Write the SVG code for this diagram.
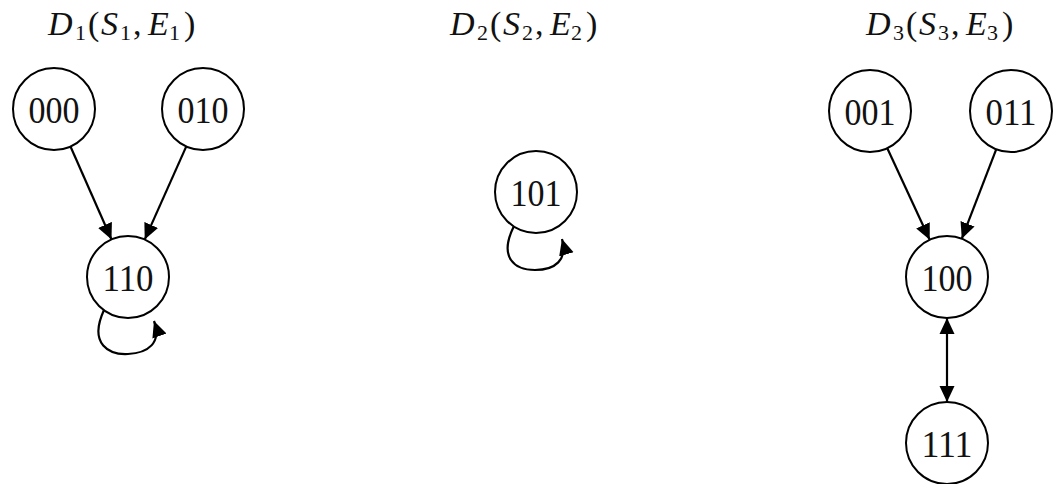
<svg xmlns="http://www.w3.org/2000/svg" width="1058" height="484" viewBox="0 0 1058 484">
<style>
.node circle{fill:#fff;stroke:#000;stroke-width:2}
.node text{font-family:"Liberation Serif","DejaVu Serif",serif;font-size:37px;text-anchor:middle;fill:#111}
.title{font-family:"Liberation Serif","DejaVu Serif",serif;font-size:34px;fill:#111}
.title .i{font-style:italic}
.title .s{font-size:22px}
#edges path,#edges line{stroke:#000;stroke-width:2.2;fill:none}
</style>
<defs>
<marker id="ah" viewBox="0 0 16 16" refX="16" refY="8" markerWidth="16" markerHeight="16" markerUnits="userSpaceOnUse" orient="auto-start-reverse">
<path d="M0,0.5 L16,8 L0,15.5 z" fill="#000"/>
</marker>
</defs>
<rect width="1058" height="484" fill="#fff"/>
<g id="titles">
<text class="title" y="35"><tspan class="i" x="48">D</tspan><tspan class="s" x="75" y="40">1</tspan><tspan x="88" y="35">(</tspan><tspan class="i" x="101">S</tspan><tspan class="s" x="120" y="40">1</tspan><tspan x="133" y="35">,</tspan><tspan class="i" x="148">E</tspan><tspan class="s" x="169" y="40">1</tspan><tspan x="184" y="35">)</tspan></text>
<text class="title" y="35" transform="translate(402,0)"><tspan class="i" x="48">D</tspan><tspan class="s" x="75" y="40">2</tspan><tspan x="88" y="35">(</tspan><tspan class="i" x="101">S</tspan><tspan class="s" x="120" y="40">2</tspan><tspan x="133" y="35">,</tspan><tspan class="i" x="148">E</tspan><tspan class="s" x="169" y="40">2</tspan><tspan x="184" y="35">)</tspan></text>
<text class="title" y="35" transform="translate(818,0)"><tspan class="i" x="48">D</tspan><tspan class="s" x="75" y="40">3</tspan><tspan x="88" y="35">(</tspan><tspan class="i" x="101">S</tspan><tspan class="s" x="120" y="40">3</tspan><tspan x="133" y="35">,</tspan><tspan class="i" x="148">E</tspan><tspan class="s" x="169" y="40">3</tspan><tspan x="184" y="35">)</tspan></text>
</g>
<g id="edges">
<line x1="70.5" y1="146.5" x2="111.5" y2="239.5" marker-end="url(#ah)"/>
<line x1="186.3" y1="146.4" x2="144.7" y2="239.6" marker-end="url(#ah)"/>
<path d="M104,310 C88,345 110,355 128,354 C148,353 162,343 154,321" marker-end="url(#ah)"/>
<path d="M514,226 C498,258 515,270 535,270 C555,270 568,260 562,239" marker-end="url(#ah)"/>
<line x1="887.3" y1="148.2" x2="929.7" y2="239.8" marker-end="url(#ah)"/>
<line x1="996.2" y1="149.3" x2="961.8" y2="238.7" marker-end="url(#ah)"/>
<line x1="947" y1="318" x2="947" y2="402" marker-start="url(#ah)" marker-end="url(#ah)"/>
</g>
<g id="n000" class="node"><circle cx="54" cy="109" r="41"/><text x="54" y="123" textLength="51" lengthAdjust="spacingAndGlyphs">000</text></g>
<g id="n010" class="node"><circle cx="203" cy="109" r="41"/><text x="203" y="123" textLength="51" lengthAdjust="spacingAndGlyphs">010</text></g>
<g id="n110" class="node"><circle cx="128" cy="277" r="41"/><text x="128" y="291" textLength="51" lengthAdjust="spacingAndGlyphs">110</text></g>
<g id="n101" class="node"><circle cx="536" cy="192" r="41"/><text x="536" y="206" textLength="51" lengthAdjust="spacingAndGlyphs">101</text></g>
<g id="n001" class="node"><circle cx="870" cy="111" r="41"/><text x="870" y="125" textLength="51" lengthAdjust="spacingAndGlyphs">001</text></g>
<g id="n011" class="node"><circle cx="1011" cy="111" r="41"/><text x="1011" y="125" textLength="51" lengthAdjust="spacingAndGlyphs">011</text></g>
<g id="n100" class="node"><circle cx="947" cy="277" r="41"/><text x="947" y="291" textLength="51" lengthAdjust="spacingAndGlyphs">100</text></g>
<g id="n111" class="node"><circle cx="947" cy="443" r="41"/><text x="947" y="457" textLength="51" lengthAdjust="spacingAndGlyphs">111</text></g>
</svg>
